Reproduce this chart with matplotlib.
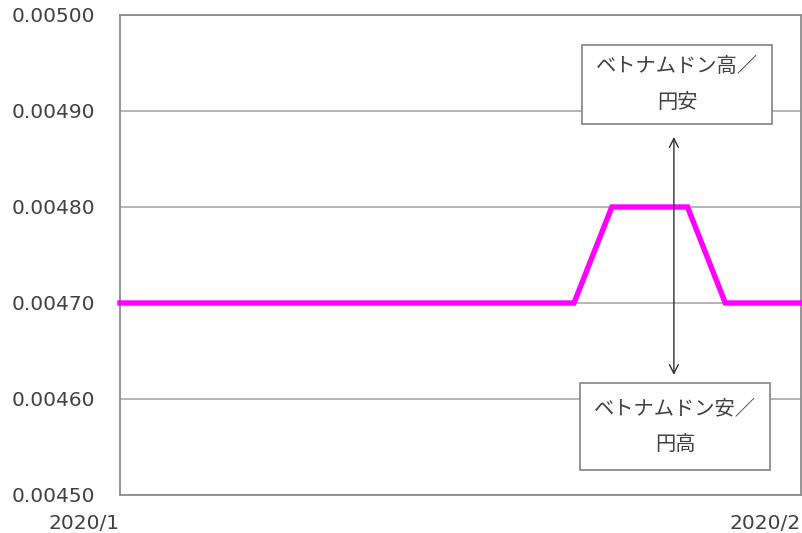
import matplotlib.pyplot as plt
from matplotlib.patches import Rectangle

plt.rcParams['font.family'] = ['DejaVu Sans']

### data
rate = [0.0047] * 13 + [0.0048] * 3 + [0.0047] * 3
xlabels = ['2020/1', '2020/2']
yticks = [0.0045, 0.0046, 0.0047, 0.0048, 0.0049, 0.0050]
upper_note = 'ベトナムドン高／\n円安'
lower_note = 'ベトナムドン安／\n円高'
###

x = list(range(len(rate)))
txt = '#404040'
jp = ['Noto Sans CJK JP', 'DejaVu Sans']

fig = plt.figure(figsize=(8.02, 5.33), dpi=100)
ax = fig.add_axes([120/802, 1-495/533, 681/802, 480/533])

ax.plot(x, rate, color='#FF00FF', lw=3.9, solid_joinstyle='miter', zorder=3, clip_on=False)

ax.set_xlim(0, len(rate) - 1)
ax.set_ylim(0.0045, 0.0050)
ax.set_yticks(yticks)
ax.set_yticklabels(['{:.5f}'.format(v) for v in yticks], fontsize=14.5, color=txt, ha='left')
ax.set_xticks([0, len(rate) - 1])
ax.set_xticklabels(xlabels, fontsize=14.5, color=txt, ha='right')
ax.tick_params(axis='y', length=0, pad=78)
ax.tick_params(axis='x', length=0, pad=13.5)
ax.grid(axis='y', color='#a0a0a0', lw=1.1, zorder=1)
for s in ax.spines.values():
  s.set_color('#8c8c8c')
  s.set_linewidth(1.3)

### notes
def note(x0, y0, x1, y1, text):
  ax.add_patch(Rectangle((x0, y0), x1 - x0, y1 - y0, transform=ax.transAxes,
                         facecolor='white', edgecolor='#8c8c8c', lw=1.3, zorder=4))
  ax.text((x0 + x1) / 2, (y0 + y1) / 2, text, transform=ax.transAxes, ha='center', va='center',
          family=jp, fontsize=14.6, color=txt, linespacing=1.95, zorder=5)

note(0.679, 0.773, 0.957, 0.9375, upper_note)
note(0.676, 0.052, 0.955, 0.233, lower_note)

ax.annotate('', xy=(14.64, 0.004873), xytext=(14.64, 0.004625),
            arrowprops=dict(arrowstyle='<->', color='#303030', lw=1.0, mutation_scale=16,
                            shrinkA=0, shrinkB=0), zorder=5)

fig.savefig('out.png', dpi=100)
